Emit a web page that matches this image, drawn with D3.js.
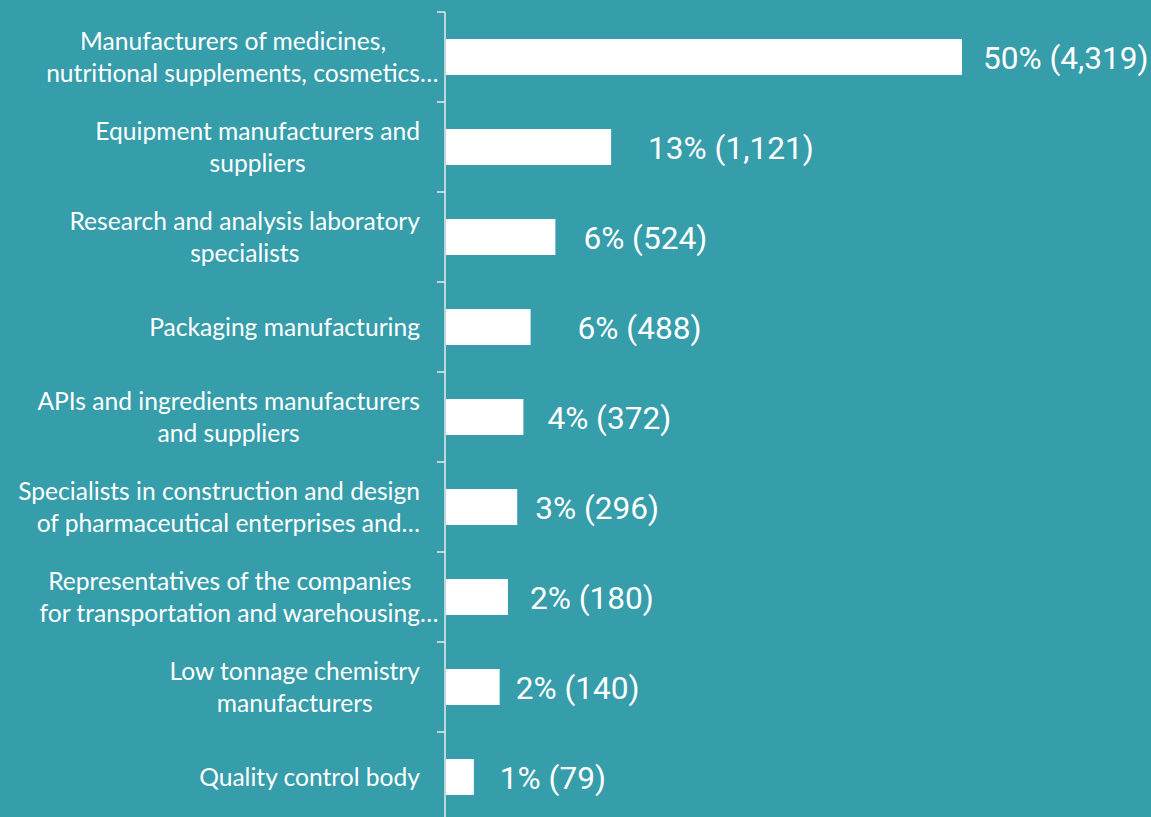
<!DOCTYPE html>
<html>
<head>
<meta charset="utf-8">
<script src="https://cdn.jsdelivr.net/npm/d3@7"></script>
<style>
  html, body { margin: 0; padding: 0; background: #369dab; overflow: hidden; }
  svg { display: block; }
</style>
</head>
<body>
<svg id="chart" width="1151" height="817"></svg>
<script>
// ---- data ----
const categories = [
  ["Manufacturers of medicines,", "nutritional supplements, cosmetics…"],
  ["Equipment manufacturers and", "suppliers"],
  ["Research and analysis laboratory", "specialists"],
  ["Packaging manufacturing"],
  ["APIs and ingredients manufacturers", "and suppliers"],
  ["Specialists in construction and design", "of pharmaceutical enterprises and…"],
  ["Representatives of the companies", "for transportation and warehousing…"],
  ["Low tonnage chemistry", "manufacturers"],
  ["Quality control body"]
];
// bar lengths as plotted (percent-scale units)
const barValues = [50, 16.0, 10.6, 8.2, 7.5, 6.9, 6.0, 5.2, 2.7];
const percentLabels = [50, 13, 6, 6, 4, 3, 2, 2, 1];
const countLabels = [4319, 1121, 524, 488, 372, 296, 180, 140, 79];

// ---- layout (not data) ----
const labelGaps = [21, 37, 28, 47, 24, 18, 22, 16, 26];
const W = 1151, H = 817;
const axisX = 445;
const catRight = 420;

const svg = d3.select("#chart");

const y = d3.scaleBand()
  .domain(d3.range(categories.length))
  .range([12, 822])
  .paddingInner(0.6)
  .paddingOuter(0.3);
const step = y.step();

const x = d3.scaleLinear().domain([0, 50]).range([axisX + 1, 962]);

// bars
svg.append("g").selectAll("rect")
  .data(barValues)
  .join("rect")
  .attr("x", x(0))
  .attr("y", (d, i) => y(i))
  .attr("width", d => x(d) - x(0))
  .attr("height", y.bandwidth())
  .attr("fill", "#ffffff");

// axis line + boundary ticks
const axisG = svg.append("g").attr("stroke", "#dfe6e8").attr("stroke-width", 1.6);
axisG.append("line")
  .attr("x1", axisX).attr("x2", axisX)
  .attr("y1", y.range()[0]).attr("y2", H + 5);
const boundaries = d3.range(categories.length + 1).map(i => y.range()[0] + i * step);
axisG.selectAll("line.tick")
  .data(boundaries)
  .join("line")
  .attr("class", "tick")
  .attr("x1", axisX - 8).attr("x2", axisX)
  .attr("y1", d => d).attr("y2", d => d);

// value labels
const fmt = d3.format(",");
svg.append("g").selectAll("text")
  .data(barValues)
  .join("text")
  .attr("x", (d, i) => x(d) + labelGaps[i])
  .attr("y", (d, i) => y(i) + y.bandwidth() / 2 + 11.5)
  .attr("fill", "#ffffff")
  .attr("font-family", "Roboto, sans-serif")
  .attr("font-size", 31.6)
  .text((d, i) => `${percentLabels[i]}% (${fmt(countLabels[i])})`);

// category labels: block right-aligned at catRight, lines centered in block,
// trailing ellipsis allowed to overflow
const lineH = 32;
const catG = svg.append("g")
  .attr("fill", "#ffffff")
  .attr("font-family", "Lato, 'Open Sans', sans-serif")
  .attr("font-size", 24.6);

categories.forEach((lines, i) => {
  const cy = y(i) + y.bandwidth() / 2;
  const n = lines.length;
  const nodes = lines.map((ln, k) => {
    const main = ln.replace(/…$/, "");
    const t = catG.append("text").text(main)
      .attr("y", cy + (k - (n - 1) / 2) * lineH + 8.5);
    const w = t.node().getComputedTextLength();
    t.text(ln);
    return { t, w };
  });
  const blockW = d3.max(nodes, d => d.w);
  const cx = catRight - blockW / 2;
  nodes.forEach(d => d.t.attr("x", cx - d.w / 2));
});
</script>
</body>
</html>
